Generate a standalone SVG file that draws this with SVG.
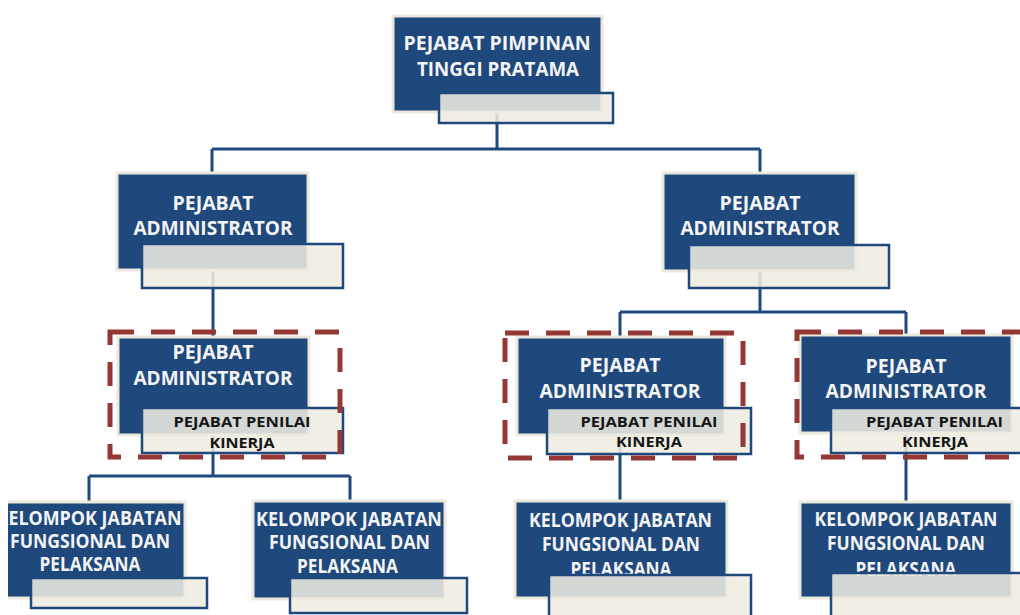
<svg xmlns="http://www.w3.org/2000/svg" width="1020" height="615" viewBox="0 0 1020 615">
<style>
.blue{fill:#1f497d;stroke:#ebe9de;stroke-width:3}
.lite{fill:#eeece1;fill-opacity:0.88;stroke:#1f497d;stroke-width:2.5}
.t{font-family:"Open Sans",Lato,"Liberation Sans",sans-serif;font-weight:bold;font-size:19px;fill:#f4f4f4;text-anchor:middle}
.s{font-family:"Open Sans",Lato,"Liberation Sans",sans-serif;font-weight:bold;font-size:15px;fill:#151515;text-anchor:middle}
.conn{fill:none;stroke:#1f497d;stroke-width:3}
.dash{fill:none;stroke:#953735;stroke-width:5;stroke-dasharray:24 17}
</style>
<defs>
<clipPath id="clipL"><rect x="8" y="0" width="1012" height="615"/></clipPath>
</defs>
<rect width="1020" height="615" fill="#ffffff"/>
<g id="connectors">
<path class="conn" d="M497,112 V149 M212,149 H760 M212,149 V175 M760,149 V175"/>
<path class="conn" d="M213,270 V338 M213,435 V476 M89,476 H350 M89,476 V503 M350,476 V503"/>
<path class="conn" d="M760,270 V312 M620,312 H906 M620,312 V338 M906,312 V336 M620,435 V502 M906,433 V503"/>
</g>
<g id="n-top">
<rect class="blue" x="393" y="16" width="209" height="96"/>
<text class="t" x="497" y="50" textLength="187" lengthAdjust="spacingAndGlyphs">PEJABAT PIMPINAN</text>
<text class="t" x="498" y="76" textLength="162" lengthAdjust="spacingAndGlyphs">TINGGI PRATAMA</text>
<rect class="lite" x="439" y="93" width="174" height="30"/>
</g>
<g id="n-adm-l">
<rect class="blue" x="117" y="173" width="191" height="97"/>
<text class="t" x="213" y="210" textLength="81" lengthAdjust="spacingAndGlyphs">PEJABAT</text>
<text class="t" x="213" y="235" textLength="159" lengthAdjust="spacingAndGlyphs">ADMINISTRATOR</text>
<rect class="lite" x="142" y="244" width="201" height="44"/>
</g>
<g id="n-adm-r">
<rect class="blue" x="663" y="173" width="193" height="98"/>
<text class="t" x="760" y="210" textLength="81" lengthAdjust="spacingAndGlyphs">PEJABAT</text>
<text class="t" x="760" y="235" textLength="159" lengthAdjust="spacingAndGlyphs">ADMINISTRATOR</text>
<rect class="lite" x="689" y="245" width="200" height="43"/>
</g>
<g id="n-ppk-l">
<rect class="blue" x="118" y="337" width="191" height="98"/>
<text class="t" x="213" y="359" textLength="81" lengthAdjust="spacingAndGlyphs">PEJABAT</text>
<text class="t" x="213" y="385" textLength="159" lengthAdjust="spacingAndGlyphs">ADMINISTRATOR</text>
<rect class="lite" x="142" y="408" width="201" height="45"/>
<text class="s" x="242" y="427" textLength="137" lengthAdjust="spacingAndGlyphs">PEJABAT PENILAI</text>
<text class="s" x="242" y="448" textLength="65" lengthAdjust="spacingAndGlyphs">KINERJA</text>
<rect class="dash" x="110" y="332" width="230" height="125"/>
</g>
<g id="n-ppk-m">
<rect class="blue" x="517" y="337" width="208" height="98"/>
<text class="t" x="620" y="372" textLength="81" lengthAdjust="spacingAndGlyphs">PEJABAT</text>
<text class="t" x="620" y="398" textLength="161" lengthAdjust="spacingAndGlyphs">ADMINISTRATOR</text>
<rect class="lite" x="547" y="408" width="204" height="46"/>
<text class="s" x="649" y="427" textLength="137" lengthAdjust="spacingAndGlyphs">PEJABAT PENILAI</text>
<text class="s" x="649" y="447" textLength="66" lengthAdjust="spacingAndGlyphs">KINERJA</text>
<rect class="dash" x="505" y="333" width="238" height="125"/>
</g>
<g id="n-ppk-r">
<rect class="blue" x="800" y="335" width="212" height="98"/>
<text class="t" x="906" y="373" textLength="81" lengthAdjust="spacingAndGlyphs">PEJABAT</text>
<text class="t" x="906" y="398" textLength="161" lengthAdjust="spacingAndGlyphs">ADMINISTRATOR</text>
<rect class="lite" x="831" y="408" width="200" height="45"/>
<text class="s" x="934.5" y="427" textLength="137" lengthAdjust="spacingAndGlyphs">PEJABAT PENILAI</text>
<text class="s" x="935" y="447" textLength="66" lengthAdjust="spacingAndGlyphs">KINERJA</text>
<rect class="dash" x="797" y="332" width="228" height="125"/>
</g>
<g id="n-jf-1" clip-path="url(#clipL)">
<rect class="blue" x="-6" y="502" width="191" height="96"/>
<text class="t" x="89" y="525" textLength="185" lengthAdjust="spacingAndGlyphs">KELOMPOK JABATAN</text>
<text class="t" x="90" y="548" textLength="160" lengthAdjust="spacingAndGlyphs">FUNGSIONAL DAN</text>
<text class="t" x="90" y="571" textLength="101" lengthAdjust="spacingAndGlyphs">PELAKSANA</text>
<rect class="lite" x="31" y="578" width="176" height="30"/>
</g>
<g id="n-jf-2">
<rect class="blue" x="253" y="501" width="192" height="98"/>
<text class="t" x="349" y="526" textLength="186" lengthAdjust="spacingAndGlyphs">KELOMPOK JABATAN</text>
<text class="t" x="349.5" y="549" textLength="161" lengthAdjust="spacingAndGlyphs">FUNGSIONAL DAN</text>
<text class="t" x="347.5" y="573" textLength="101" lengthAdjust="spacingAndGlyphs">PELAKSANA</text>
<rect class="lite" x="290" y="578" width="177" height="35"/>
</g>
<g id="n-jf-3">
<rect class="blue" x="515" y="501" width="212" height="97"/>
<text class="t" x="620.5" y="527" textLength="183" lengthAdjust="spacingAndGlyphs">KELOMPOK JABATAN</text>
<text class="t" x="621" y="551" textLength="158" lengthAdjust="spacingAndGlyphs">FUNGSIONAL DAN</text>
<text class="t" x="621" y="576" textLength="101" lengthAdjust="spacingAndGlyphs">PELAKSANA</text>
<rect class="lite" x="549" y="575" width="202" height="50"/>
</g>
<g id="n-jf-4">
<rect class="blue" x="800" y="502" width="212" height="96"/>
<text class="t" x="906" y="526" textLength="183" lengthAdjust="spacingAndGlyphs">KELOMPOK JABATAN</text>
<text class="t" x="906" y="550" textLength="158" lengthAdjust="spacingAndGlyphs">FUNGSIONAL DAN</text>
<text class="t" x="906" y="576" textLength="101" lengthAdjust="spacingAndGlyphs">PELAKSANA</text>
<rect class="lite" x="831" y="573" width="200" height="52"/>
</g>
</svg>
